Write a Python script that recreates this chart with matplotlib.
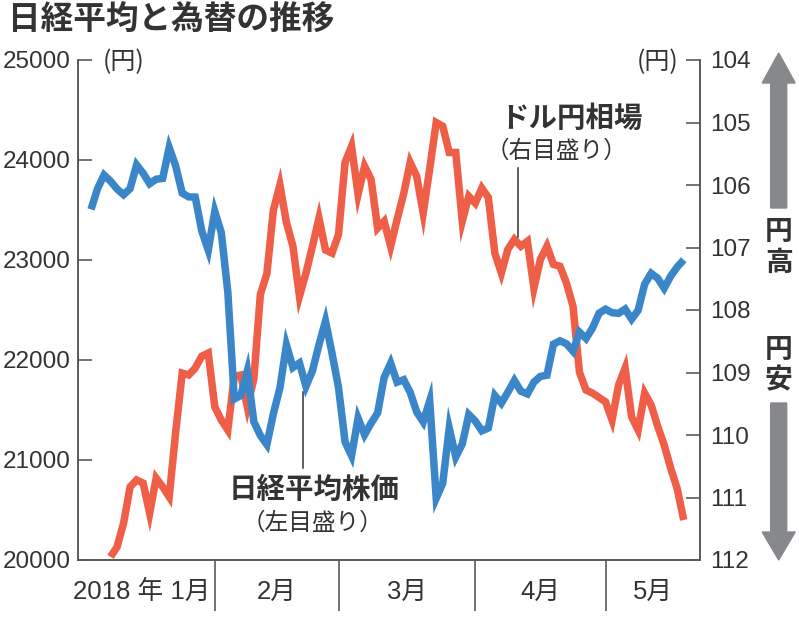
import numpy as np
import matplotlib
matplotlib.use("Agg")
import matplotlib.pyplot as plt
from matplotlib.patches import FancyArrow

# ---------------- data ----------------
month_labels = ["2018 年 1月", "2月", "3月", "4月", "5月"]
month_days = [19, 19, 21, 20, 13]          # trading days per month

nikkei = [
    # Jan
    23506, 23714, 23850, 23788, 23710, 23653, 23714, 23951, 23868, 23763,
    23808, 23816, 24124, 23940, 23669, 23631, 23629, 23291, 23098,
    # Feb
    23486, 23274, 22682, 21610, 21645, 21891, 21382, 21245, 21154, 21464,
    21720, 22150, 21925, 21970, 21737, 21892, 22153, 22389, 22068,
    # Mar
    21724, 21182, 21042, 21418, 21253, 21368, 21470, 21824, 21968, 21778,
    21803, 21677, 21481, 21381, 21591, 20618, 20767, 21318, 21031, 21160, 21454,
    # Apr
    21389, 21292, 21320, 21645, 21568, 21678, 21795, 21688, 21661, 21779,
    21836, 21848, 22158, 22192, 22162, 22088, 22278, 22215, 22320, 22468,
    # May
    22508, 22473, 22467, 22509, 22409, 22497, 22758, 22866, 22818, 22718,
    22838, 22930, 23002,
]

nan = np.nan
usdjpy = [
    # Jan
    nan, nan, nan, 111.95, 111.79, 111.41, 110.83, 110.72, 110.77, 111.25,
    110.69, 110.83, 110.99, 109.95, 109.01, 109.04, 108.93, 108.74, 108.69,
    # Feb
    109.55, 109.76, 109.92, 109.06, 109.04, 109.55, 109.10, 107.75, 107.42, 106.40,
    106.00, 106.60, 106.98, 107.78, 107.41, 106.98, 106.53, 107.04, 107.09,
    # Mar
    106.79, 105.64, 105.38, 106.15, 105.70, 105.91, 106.69, 106.58, 106.98, 106.55,
    106.14, 105.64, 105.86, 106.45, 105.74, 105.00, 105.06, 105.48, 105.48, 106.58, 106.18,
    # Apr
    106.29, 106.05, 106.20, 107.09, 107.41, 107.03, 106.87, 106.98, 106.90, 107.65,
    107.19, 106.98, 107.27, 107.30, 107.57, 107.94, 109.00, 109.28, 109.33, 109.40,
    # May
    109.47, 109.76, 109.20, 108.93, 109.71, 109.92, 109.33, 109.52, 109.86, 110.16,
    110.53, 110.86, 111.36,
]

left_ticks = [20000, 21000, 22000, 23000, 24000, 25000]
right_ticks = [104, 105, 106, 107, 108, 109, 110, 111, 112]

# ---------------- style ----------------
plt.rcParams["font.family"] = ["Noto Sans CJK JP", "DejaVu Sans"]
NUM_FONT = ["Liberation Sans", "Noto Sans CJK JP", "DejaVu Sans"]
CJK = ["Noto Sans CJK JP", "DejaVu Sans"]
BLUE = "#3a86c8"
RED = "#ef5e47"
TXT = "#333333"
AXC = "#5a5a5a"
ARROW = "#87888c"
NUM_SIZE = 17.5

W, H = 799, 627
fig = plt.figure(figsize=(W / 100, H / 100), dpi=100)
L, R, T, B = 78, 700, 60, 560
ax = fig.add_axes([L / W, 1 - B / H, (R - L) / W, (B - T) / H])
ax2 = ax.twinx()

x = np.arange(len(nikkei))
ax2.plot(x, usdjpy, color=RED, lw=5.4, solid_joinstyle="miter", solid_capstyle="butt", zorder=2)
ax.plot(x, nikkei, color=BLUE, lw=5.4, solid_joinstyle="miter", solid_capstyle="butt", zorder=3)
ax.set_zorder(ax2.get_zorder() + 1)
ax.patch.set_visible(False)

ax.set_xlim(-2, 93.5)
ax.set_ylim(20000, 25000)
ax2.set_ylim(112, 104)

# month separators and labels
starts = np.cumsum([0] + month_days[:-1])
edges = [ax.get_xlim()[0]] + list(starts[1:]) + [ax.get_xlim()[1]]
centers = [(edges[k] + edges[k + 1]) / 2 for k in range(len(month_labels))]
centers[0] -= 0.7
ax.set_xticks(centers)
ax.set_xticklabels(month_labels, fontfamily=NUM_FONT, fontsize=NUM_SIZE + 1, color=TXT)
ax.set_xticks(starts[1:], minor=True)
ax.tick_params(axis="x", which="major", length=0, pad=14)
ax.tick_params(axis="x", which="minor", direction="out", length=37, width=1.2, color=AXC)

ax.set_yticks(left_ticks)
ax.set_yticklabels([str(v) for v in left_ticks], fontfamily=NUM_FONT, fontsize=NUM_SIZE, color=TXT)
ax.tick_params(axis="y", direction="in", length=10, width=1.2, color=AXC, pad=5)

ax2.set_yticks(right_ticks)
ax2.set_yticklabels([str(v) for v in right_ticks], fontfamily=NUM_FONT, fontsize=NUM_SIZE, color=TXT)
ax2.tick_params(axis="y", direction="in", length=10, width=1.2, color=AXC, pad=7)

for a in (ax, ax2):
    a.spines["top"].set_visible(False)
    for s in ("left", "right", "bottom"):
        a.spines[s].set_color(AXC)
        a.spines[s].set_linewidth(1.2)

# units
ax.text(0.074, 0.996, "(円)", transform=ax.transAxes, ha="center", va="center",
        fontsize=18, color=TXT, family=CJK)
ax.text(0.9325, 0.996, "(円)", transform=ax.transAxes, ha="center", va="center",
        fontsize=18, color=TXT, family=CJK)

# series labels
ax.text(0.7926, 0.882, "ドル円相場", transform=ax.transAxes, ha="center", va="center",
        fontsize=20.5, fontweight="bold", color=TXT, family=CJK)
ax.text(0.7685, 0.818, "（右目盛り）", transform=ax.transAxes, ha="center", va="center",
        fontsize=17, color=TXT, family=CJK)
ax.plot([0.7079, 0.7079], [0.784, 0.646], transform=ax.transAxes, color="#333333", lw=1.1, zorder=5)

ax.text(0.3794, 0.14, "日経平均株価", transform=ax.transAxes, ha="center", va="center",
        fontsize=20.5, fontweight="bold", color=TXT, family=CJK)
ax.text(0.377, 0.074, "（左目盛り）", transform=ax.transAxes, ha="center", va="center",
        fontsize=17, color=TXT, family=CJK)
ax.plot([0.3622, 0.3622], [0.3366, 0.184], transform=ax.transAxes, color="#333333", lw=1.1, zorder=5)

# title
fig.text(8 / W, 1 - 19 / H, "日経平均と為替の推移", ha="left", va="center",
         fontsize=23.5, fontweight="bold", color=TXT, family=CJK)

# arrows on the right (drawn in inches)
tr = fig.dpi_scale_trans
ax_x = 778.7 / 100
up = FancyArrow(ax_x, (H - 208) / 100, 0, (208 - 53) / 100, width=0.16, head_width=0.33,
                head_length=0.30, length_includes_head=True, color=ARROW, transform=tr)
down = FancyArrow(ax_x, (H - 403) / 100, 0, -(560 - 403) / 100, width=0.16, head_width=0.33,
                  head_length=0.28, length_includes_head=True, color=ARROW, transform=tr)
fig.patches.extend([up, down])

for ch, py in (("円", 232), ("高", 263), ("円", 350), ("安", 380)):
    fig.text(ax_x / (W / 100), 1 - py / H, ch, ha="center", va="center",
             fontsize=20, fontweight="bold", color=TXT, family=CJK)

fig.savefig("out.png", dpi=100)
